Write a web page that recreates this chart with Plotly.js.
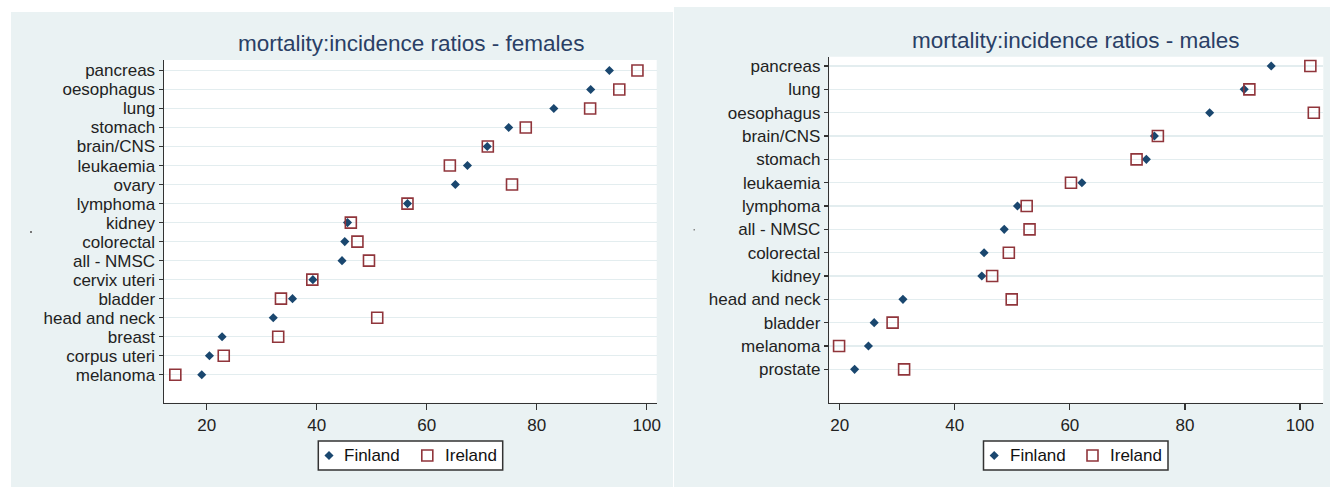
<!DOCTYPE html>
<html>
<head>
<meta charset="utf-8">
<script src="https://cdn.plot.ly/plotly-3.0.1.min.js"></script>
<style>html,body{margin:0;padding:0;background:#fff;}#chart{width:1330px;height:487px;}</style>
</head>
<body>
<div id="chart"></div>
<script>
// ---- data ----
const femaleCats = ["pancreas","oesophagus","lung","stomach","brain/CNS","leukaemia","ovary","lymphoma","kidney","colorectal","all - NMSC","cervix uteri","bladder","head and neck","breast","corpus uteri","melanoma"];
const femaleFinland = [93.2, 89.8, 83.1, 74.9, 71.0, 67.4, 65.2, 56.5, 45.6, 45.1, 44.6, 39.3, 35.6, 32.1, 22.8, 20.5, 19.1];
const femaleIreland = [98.3, 95.0, 89.7, 78.0, 71.1, 64.2, 75.5, 56.5, 46.2, 47.4, 49.5, 39.2, 33.5, 51.0, 33.0, 23.1, 14.3];

const maleCats = ["pancreas","lung","oesophagus","brain/CNS","stomach","leukaemia","lymphoma","all - NMSC","colorectal","kidney","head and neck","bladder","melanoma","prostate"];
const maleFinland = [95.0, 90.3, 84.3, 74.7, 73.3, 62.1, 50.9, 48.6, 45.1, 44.7, 31.0, 26.0, 25.0, 22.6];
const maleIreland = [101.8, 91.2, 102.4, 75.3, 71.6, 60.2, 52.5, 53.0, 49.4, 46.5, 49.9, 29.2, 19.9, 31.2];

const xTicks = [20, 40, 60, 80, 100];
const seriesNames = ["Finland", "Ireland"];
const titles = ["mortality:incidence ratios - females", "mortality:incidence ratios - males"];

// ---- styling ----
const W = 1330, H = 487;
const FONT = "Liberation Sans, Arial, sans-serif";
const BG = "#EAF2F3";
const C_FIN = "#1a476f";
const C_IRL = "#90353b";
const px = v => v / W;
const py = v => 1 - v / H;

const finMarker = {symbol: "diamond", size: 7, color: C_FIN};
const irlMarker = {symbol: "square-open", size: 11, color: C_IRL, line: {width: 1.6, color: C_IRL}};

const traces = [
  {type: "scatter", mode: "markers", name: seriesNames[0], x: femaleFinland, y: femaleCats, xaxis: "x", yaxis: "y", marker: finMarker},
  {type: "scatter", mode: "markers", name: seriesNames[1], x: femaleIreland, y: femaleCats, xaxis: "x", yaxis: "y", marker: irlMarker},
  {type: "scatter", mode: "markers", name: seriesNames[0], x: maleFinland, y: maleCats, xaxis: "x2", yaxis: "y2", marker: finMarker},
  {type: "scatter", mode: "markers", name: seriesNames[1], x: maleIreland, y: maleCats, xaxis: "x2", yaxis: "y2", marker: irlMarker}
];

// ---- legend keys (layout positions in pixels, drawn on an invisible overlay axis) ----
const legendBoxes = [{x0: 318.3, x1: 502.7}, {x0: 983.5, x1: 1168}];
const LEG_Y0 = 441, LEG_Y1 = 470, LEG_YC = 455.5;
const annotations = [
  {xref: "paper", yref: "paper", x: px(411), y: py(43), xanchor: "center", yanchor: "middle", showarrow: false,
   text: titles[0], font: {family: FONT, size: 22.5, color: "#2a3f66"}},
  {xref: "paper", yref: "paper", x: px(1075.5), y: py(40), xanchor: "center", yanchor: "middle", showarrow: false,
   text: titles[1], font: {family: FONT, size: 22.5, color: "#2a3f66"}}
];
legendBoxes.forEach(b => {
  traces.push({type: "scatter", mode: "markers", showlegend: false, hoverinfo: "skip",
    x: [b.x0 + 10.7], y: [LEG_YC], xaxis: "x3", yaxis: "y3", marker: finMarker});
  traces.push({type: "scatter", mode: "markers", showlegend: false, hoverinfo: "skip",
    x: [b.x0 + 109], y: [LEG_YC], xaxis: "x3", yaxis: "y3", marker: irlMarker});
  annotations.push({xref: "paper", yref: "paper", x: px(b.x0 + 24), y: py(LEG_YC), xanchor: "left", yanchor: "middle",
    showarrow: false, text: seriesNames[0], font: {family: FONT, size: 17, color: "#111"}});
  annotations.push({xref: "paper", yref: "paper", x: px(b.x0 + 124.5), y: py(LEG_YC), xanchor: "left", yanchor: "middle",
    showarrow: false, text: seriesNames[1], font: {family: FONT, size: 17, color: "#111"}});
});

function xAxis(domain, range, anchor) {
  return {
    domain: domain, range: range, anchor: anchor,
    tickmode: "array", tickvals: xTicks, ticktext: xTicks.map(String),
    ticks: "outside", ticklen: 6, tickwidth: 1.2, tickcolor: "#333",
    showline: true, linecolor: "#333", linewidth: 1.5,
    showgrid: false, zeroline: false,
    tickfont: {family: FONT, size: 17, color: "#222"}
  };
}
function yAxis(domain, cats, range, anchor) {
  return {
    domain: domain, anchor: anchor, type: "category",
    categoryorder: "array", categoryarray: cats.slice().reverse(),
    tickmode: "array", tickvals: cats, ticktext: cats,
    range: range,
    ticks: "outside", ticklen: 4, tickwidth: 1.2, tickcolor: "#333",
    showline: true, linecolor: "#333", linewidth: 1.5,
    showgrid: true, gridcolor: "#E3EDEF", gridwidth: 1.5,
    zeroline: false,
    tickfont: {family: FONT, size: 17, color: "#222"}
  };
}

const shapes = [
  {type: "rect", xref: "paper", yref: "paper", x0: px(11), x1: px(673), y0: 0, y1: py(12), fillcolor: BG, line: {width: 0}, layer: "below"},
  {type: "rect", xref: "paper", yref: "paper", x0: px(674), x1: 1, y0: 0, y1: py(7), fillcolor: BG, line: {width: 0}, layer: "below"},
  {type: "rect", xref: "paper", yref: "paper", x0: px(164), x1: px(656.7), y0: py(402.7), y1: py(60), fillcolor: "#fff", line: {width: 0}, layer: "below"},
  {type: "rect", xref: "paper", yref: "paper", x0: px(829.3), x1: px(1323.3), y0: py(402.7), y1: py(56.7), fillcolor: "#fff", line: {width: 0}, layer: "below"},
  {type: "rect", xref: "paper", yref: "paper", x0: px(30), x1: px(32), y0: py(233), y1: py(231), fillcolor: "#777", line: {width: 0}, layer: "below"},
  {type: "rect", xref: "paper", yref: "paper", x0: px(693.5), x1: px(695), y0: py(230.5), y1: py(229), fillcolor: "#888", line: {width: 0}, layer: "below"}
];
legendBoxes.forEach(b => shapes.push({type: "rect", xref: "paper", yref: "paper",
  x0: px(b.x0), x1: px(b.x1), y0: py(LEG_Y1), y1: py(LEG_Y0), fillcolor: "#fff",
  line: {width: 1.5, color: "#333"}, layer: "below"}));

const layout = {
  width: W, height: H,
  margin: {l: 0, r: 0, t: 0, b: 0},
  paper_bgcolor: "#ffffff", plot_bgcolor: "rgba(0,0,0,0)",
  showlegend: false,
  xaxis: xAxis([px(164), px(656.7)], [12.24, 101.8], "y"),
  yaxis: yAxis([1 - 402.7 / H, 1 - 60 / H], femaleCats, [-1.47, femaleCats.length - 1 + 0.55], "x"),
  xaxis2: xAxis([px(829.3), px(1323.3)], [18.2, 104.05], "y2"),
  yaxis2: yAxis([1 - 402.7 / H, 1 - 56.7 / H], maleCats, [-1.43, maleCats.length - 1 + 0.4], "x2"),
  xaxis3: {domain: [0, 1], range: [0, W], visible: false, anchor: "y3", fixedrange: true},
  yaxis3: {domain: [0, 1], range: [H, 0], visible: false, anchor: "x3", fixedrange: true},
  shapes: shapes,
  annotations: annotations
};

Plotly.newPlot("chart", traces, layout, {displayModeBar: false, staticPlot: true});
</script>
</body>
</html>
